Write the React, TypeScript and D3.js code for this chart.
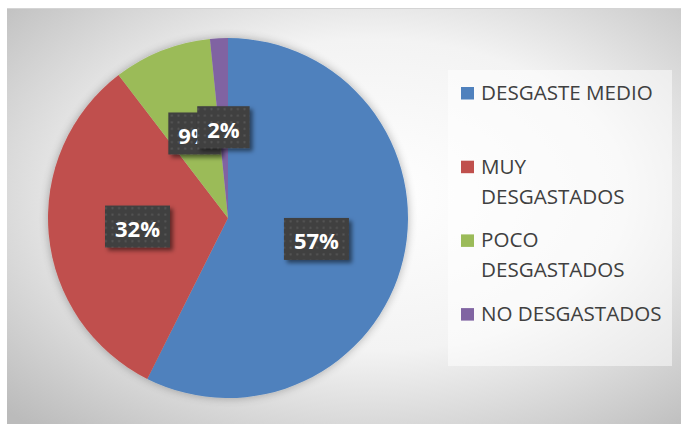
import React from 'react';
import * as d3 from 'd3';

// ---- data ----
const categories = ['DESGASTE MEDIO', 'MUY DESGASTADOS', 'POCO DESGASTADOS', 'NO DESGASTADOS'];
const values = [57.4, 32.2, 8.8, 1.6];
const colors = ['#4F81BD', '#C0504D', '#9BBB59', '#8064A2'];

const W = 681;
const H = 424;
const LABEL_FONT = "bold 22px 'Open Sans'";
const LEGEND_FONT = "20.6px 'Open Sans'";

let ctx: CanvasRenderingContext2D | null = null;
function measure(text: string, font: string): number {
  if (!ctx) ctx = document.createElement('canvas').getContext('2d');
  if (!ctx) return text.length * 10;
  ctx.font = font;
  return ctx.measureText(text).width;
}

function wrap(text: string, maxW: number): string[] {
  const words = text.split(' ');
  const lines: string[] = [];
  let cur = '';
  for (const w of words) {
    const t = cur ? cur + ' ' + w : w;
    if (cur && measure(t, LEGEND_FONT) > maxW) {
      lines.push(cur);
      cur = w;
    } else cur = t;
  }
  if (cur) lines.push(cur);
  return lines;
}

export default function App() {
  const cx = 228, cy = 218, r = 180;
  const arcs = d3.pie<number>().sort(null).value((d) => d)(values);
  const arc = d3.arc<d3.PieArcDatum<number>>().innerRadius(0).outerRadius(r);
  const labelArc = d3.arc<d3.PieArcDatum<number>>().innerRadius(r * 0.505).outerRadius(r * 0.505);
  const total = d3.sum(values);
  const fmt = (v: number) => `${Math.round((v / total) * 100)}%`;

  const legendX = 461;
  const legendY0 = 100;
  const legendStep = 73.7;
  const lineH = 30;

  return (
    <svg width={W} height={H} style={{ position: 'absolute', left: 0, top: 0 }}>
      <defs>
        <radialGradient id="bg" cx="54%" cy="45%" r="75%">
          <stop offset="0" stopColor="#ffffff" />
          <stop offset="0.5" stopColor="#f3f3f3" />
          <stop offset="1" stopColor="#bbbbbb" />
        </radialGradient>
        <filter id="pieShadow" x="-20%" y="-20%" width="140%" height="140%">
          <feGaussianBlur in="SourceAlpha" stdDeviation="5" />
          <feComponentTransfer>
            <feFuncA type="linear" slope="0.3" />
          </feComponentTransfer>
          <feMerge>
            <feMergeNode />
            <feMergeNode in="SourceGraphic" />
          </feMerge>
        </filter>
        <filter id="boxShadow" x="-30%" y="-30%" width="160%" height="160%">
          <feDropShadow dx="3" dy="3" stdDeviation="2" floodColor="#000" floodOpacity="0.5" />
        </filter>
        <pattern id="dots" width="6.6" height="6.6" patternUnits="userSpaceOnUse">
          <rect width="6.6" height="6.6" fill="#3f3f3f" />
          <rect x="2.3" y="2.3" width="2" height="2" fill="#575757" />
        </pattern>
      </defs>

      <rect x={7} y={8} width={W - 7} height={H - 8} fill="url(#bg)" />
      <line x1={7} x2={W} y1={8.5} y2={8.5} stroke="#d4d4d4" strokeWidth={1} />

      <g transform={`translate(${cx},${cy})`} filter="url(#pieShadow)">
        {arcs.map((a, i) => (
          <path key={i} d={arc(a) || ''} fill={colors[i]} />
        ))}
      </g>

      <g transform={`translate(${cx},${cy})`}>
        {arcs.map((a, i) => {
          const [lx, ly] = labelArc.centroid(a);
          const txt = fmt(a.data);
          const tw = measure(txt, LABEL_FONT);
          const bw = tw + 20;
          const bh = 42;
          return (
            <g key={i}>
              <rect x={lx - bw / 2} y={ly - bh / 2} width={bw} height={bh} fill="url(#dots)" filter="url(#boxShadow)" />
              <text x={lx} y={ly + 10.5} textAnchor="middle" fill="#ffffff"
                style={{ font: LABEL_FONT }}>{txt}</text>
            </g>
          );
        })}
      </g>

      <rect x={448} y={70} width={224} height={296} fill="#ffffff" opacity={0.5} />

      <g>
        {categories.map((c, i) => {
          const lines = wrap(c, 186);
          const by = legendY0 + i * legendStep;
          return (
            <g key={c}>
              <rect x={legendX} y={by - 13} width={13} height={12.5} fill={colors[i]} />
              {lines.map((ln, j) => (
                <text key={j} x={legendX + 20} y={by + j * lineH} fill="#404040" style={{ font: LEGEND_FONT }}>
                  {ln}
                </text>
              ))}
            </g>
          );
        })}
      </g>
    </svg>
  );
}
